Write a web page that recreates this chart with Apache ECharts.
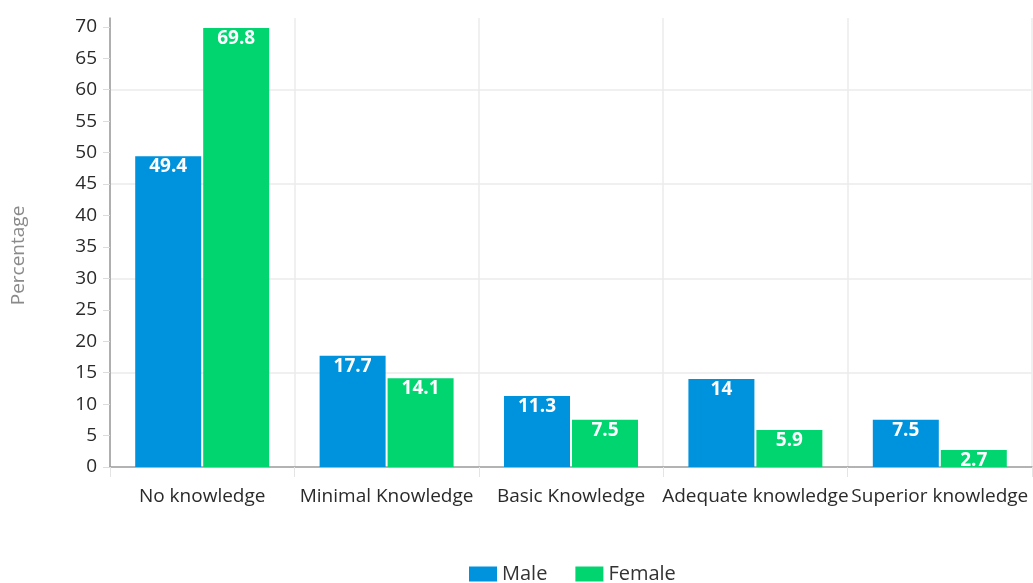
<!DOCTYPE html>
<html>
<head>
<meta charset="utf-8">
<script src="https://cdn.jsdelivr.net/npm/echarts@6/dist/echarts.min.js"></script>
<style>
  html, body { margin: 0; padding: 0; background: #fff; }
  #chart { width: 1033px; height: 583px; }
</style>
</head>
<body>
<div id="chart"></div>
<script>
// Knowledge level by gender (percentage of respondents)
const categories = ['No knowledge', 'Minimal Knowledge', 'Basic Knowledge', 'Adequate knowledge', 'Superior knowledge'];
const maleValues = [49.4, 17.7, 11.3, 14, 7.5];
const femaleValues = [69.8, 14.1, 7.5, 5.9, 2.7];
const yTicks = [0, 5, 10, 15, 20, 25, 30, 35, 40, 45, 50, 55, 60, 65, 70];
const gridTicks = [15, 30, 45, 60];

const FONT = '"Open Sans", "Noto Sans", sans-serif';
const chart = echarts.init(document.getElementById('chart'), null, { renderer: 'canvas' });

const barLabel = {
  show: true,
  position: 'insideTop',
  distance: 1,
  color: '#fff',
  fontFamily: FONT,
  fontWeight: 'bold',
  fontSize: 19
};

chart.setOption({
  animation: false,
  textStyle: { fontFamily: FONT },
  grid: { left: 110, right: 1, top: 18, bottom: 116 },
  legend: {
    bottom: -6,
    left: 464,
    itemWidth: 28,
    itemHeight: 15,
    itemGap: 28,
    icon: 'rect',
    textStyle: { fontFamily: FONT, fontSize: 20, color: '#333' },
    data: ['Male', 'Female']
  },
  xAxis: {
    type: 'category',
    data: categories,
    axisLine: { lineStyle: { color: '#9a9a9a', width: 1.5 } },
    axisTick: { show: true, length: 10, lineStyle: { color: '#e4e4e4' } },
    splitLine: { show: true, lineStyle: { color: '#ebebeb', width: 1.5 } },
    axisLabel: {
      interval: 0,
      margin: 20,
      fontFamily: FONT,
      fontSize: 19,
      color: '#2a2a2a'
    }
  },
  yAxis: [
    {
      type: 'value',
      min: 0,
      max: 71.4,
      name: 'Percentage',
      nameLocation: 'middle',
      nameGap: 82,
      nameTextStyle: { fontFamily: FONT, fontSize: 19, color: '#8a8a8a', padding: [0, 26, 0, 0] },
      axisLine: { show: true, lineStyle: { color: '#9a9a9a', width: 1.5 } },
      axisTick: { show: true, length: 7, customValues: yTicks, lineStyle: { color: '#dcdcdc' } },
      axisLabel: {
        customValues: yTicks,
        margin: 13,
        fontFamily: FONT,
        fontSize: 19,
        color: '#2a2a2a'
      },
      splitLine: { show: false }
    }
  ],
  series: [
    {
      name: 'Male',
      type: 'bar',
      data: maleValues,
      barWidth: 66,
      barGap: '3%',
      itemStyle: { color: '#0093dd' },
      label: barLabel,
      // horizontal guide lines every 15 units
      markLine: {
        silent: true,
        symbol: 'none',
        label: { show: false },
        lineStyle: { color: '#ebebeb', width: 1.5, type: 'solid' },
        data: gridTicks.map(v => ({ yAxis: v })),
        z: 0
      },
      z: 3
    },
    {
      name: 'Female',
      type: 'bar',
      data: femaleValues,
      barWidth: 66,
      itemStyle: { color: '#00d570' },
      label: barLabel,
      z: 3
    }
  ]
});
</script>
</body>
</html>
